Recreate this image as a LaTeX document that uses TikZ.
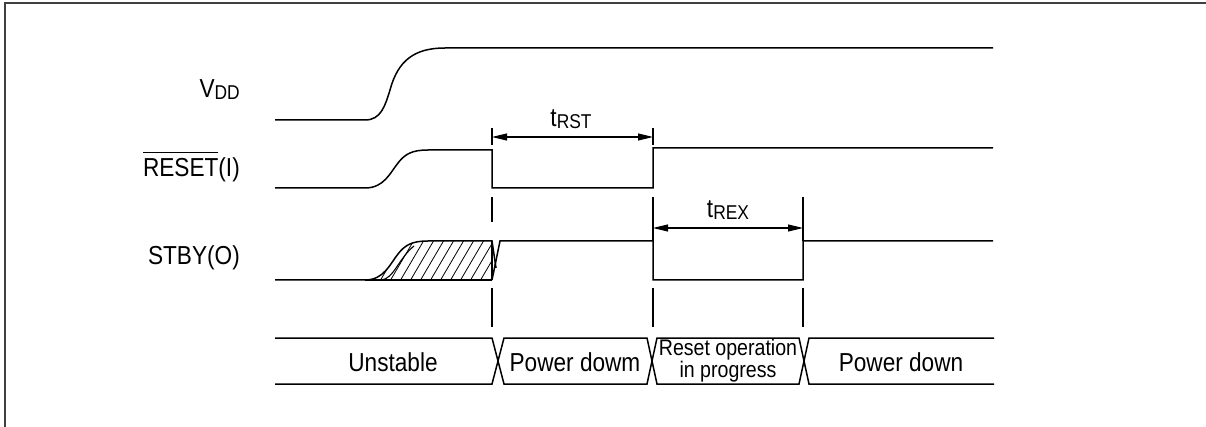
\documentclass[tikz,border=0pt]{standalone}
\usepackage{fontspec}
\setmainfont{Liberation Sans}[FakeStretch=0.87]
\usetikzlibrary{arrows.meta}
\newcommand{\sbs}[1]{{\fontsize{20}{20}\selectfont\raisebox{-2pt}{#1}}}
\newcommand{\ovl}[1]{\setbox0\hbox{#1}\rlap{\rule[\dimexpr\ht0+6pt\relax]{\wd0}{1.2pt}}\box0}
\begin{document}
\begin{tikzpicture}[x=1pt,y=-1pt,
  frame/.style={line width=2pt, draw=black!75},
  sig/.style={line width=1.5pt, line join=miter},
  thin/.style={line width=1.1pt},
  dim/.style={line width=1.1pt, {Triangle[length=15pt,width=7pt]}-{Triangle[length=15pt,width=7pt]}},
  lbl/.style={font=\fontsize{26}{30}\selectfont, inner sep=0pt},
  bustxt/.style={font=\fontsize{26}{30}\selectfont, inner sep=0pt, align=center},
  bussmall/.style={font=\fontsize{22.5}{20}\selectfont, inner sep=0pt, align=center}]
\useasboundingbox (0,0) rectangle (1206,427);
% frame (top and left only)
\draw[frame] (5,427) -- (5,3) -- (1206,3);

% labels
\node[lbl, anchor=base east] (vdd) at (240,98) {V\sbs{DD}};
\node[lbl, anchor=base east] (rst) at (240,177) {\ovl{RESET}(I)};
\node[lbl, anchor=base east] (stby) at (240,265) {STBY(O)};

% VDD
\draw[sig] (275,120) -- (365,120) .. controls (381,120) and (385,106) .. (390,90)
  .. controls (398,60) and (415,48) .. (445,48) -- (993,48);

% RESET
\draw[sig] (275,188) -- (365,188) .. controls (384,188) and (390,173) .. (398,163)
  .. controls (405,154) and (412,150) .. (428,150) -- (492,150) -- (492,188)
  -- (653,188) -- (653,148) -- (993,148);

% STBY hatched region
\begin{scope}
  \clip (365,280) .. controls (384,280) and (390,264) .. (398,254)
    .. controls (405,245) and (412,241) .. (428,241) -- (492,241) -- (492,280) -- cycle;
  \foreach \x in {340,350,...,500} \draw[line width=0.8pt] (\x,281) -- ++(23.5,-40);
\end{scope}
\draw[sig] (275,280) -- (365,280) .. controls (384,280) and (390,264) .. (398,254)
  .. controls (405,245) and (412,241) .. (428,241) -- (492,241) -- (496,268);
\draw[thin] (381,280) .. controls (394,279) and (398,259) .. (414,246);
\draw[sig] (365,280) -- (492,280);
\draw[thin] (492,241) -- (492,280);
\draw[sig] (492,280) -- (500,241) -- (653,241) -- (653,280) -- (803,280) -- (803,241) -- (993,241);

% vertical marker lines
\draw[thin] (492,128) -- (492,145);
\draw[thin] (653,128) -- (653,145);
\draw[thin] (492,197) -- (492,222);
\draw[thin] (653,197) -- (653,241);
\draw[thin] (803,197) -- (803,241);
\foreach \x in {492,653,803} \draw[thin] (\x,288) -- (\x,327);

% dimension arrows
\coordinate (a1) at (492,137);
\coordinate (a2) at (653,137);
\coordinate (b1) at (653,228);
\coordinate (b2) at (803,228);
\draw[dim] (a1) -- (a2);
\draw[dim] (b1) -- (b2);
\node[lbl, anchor=base] (trst) at (571,127) {t\sbs{RST}};
\node[lbl, anchor=base] (trex) at (728,218) {t\sbs{REX}};

% bus
\draw[sig] (275,338) -- (492,338) -- (504,384) -- (647,384) -- (657,338) -- (799,338) -- (809,384) -- (994,384);
\draw[sig] (275,384) -- (492,384) -- (504,338) -- (647,338) -- (657,384) -- (799,384) -- (809,338) -- (994,338);
\node[bustxt] (s1) at (393,362) {Unstable};
\node[bustxt] (s2) at (575,362) {Power dowm};
\node[bussmall] (s3) at (728,361) {Reset operation\\in progress};
\node[bustxt] (s4) at (901,362) {Power down};
\end{tikzpicture}
\end{document}
